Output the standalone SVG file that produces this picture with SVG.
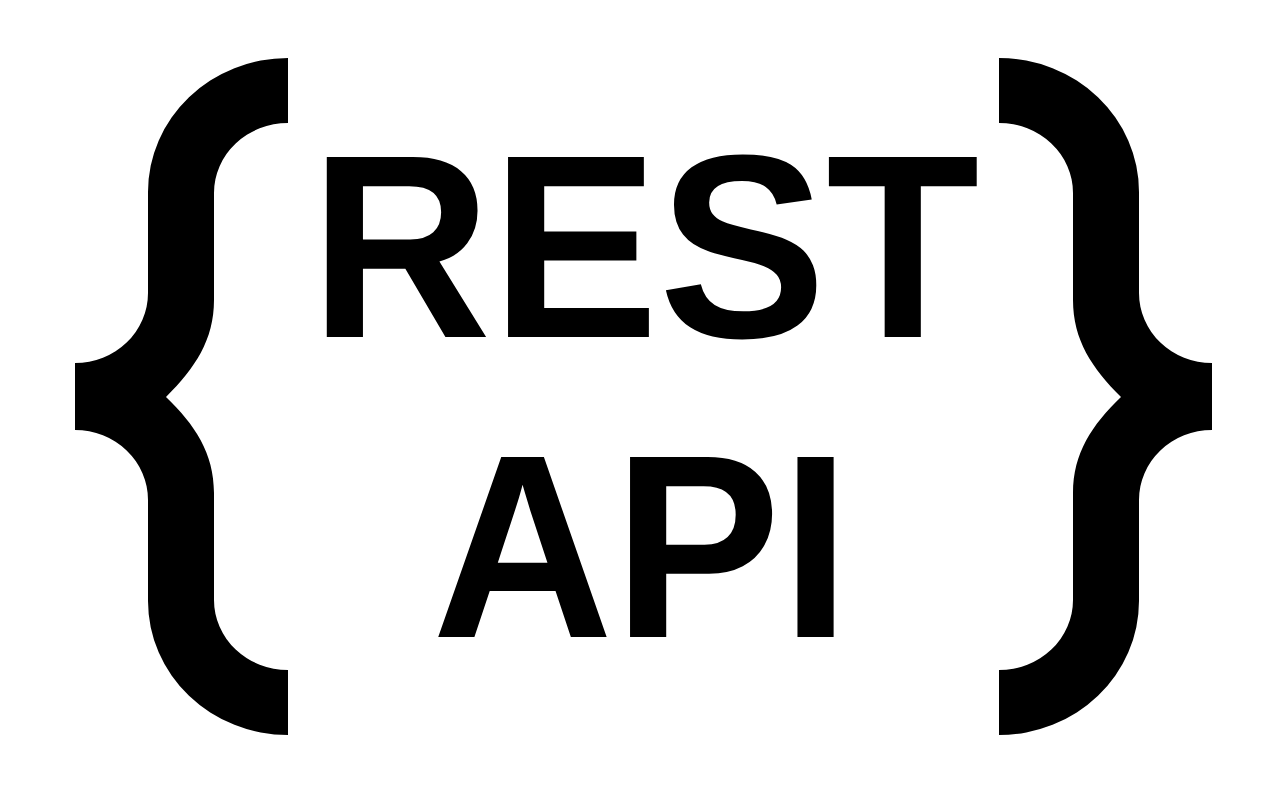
<svg xmlns="http://www.w3.org/2000/svg" xmlns:xlink="http://www.w3.org/1999/xlink" width="1284" height="798" viewBox="0 0 1284 798">
  <style>
    .brace { fill: #000000; }
    .title { font-family: "Liberation Sans", Arial, sans-serif; font-weight: bold; font-size: 251px; fill: #000000; }
  </style>
  <defs>
    <path id="bracePath" class="brace" d="M288,58 A140,134 0 0 0 148,192 L148,293 A73,70 0 0 1 75,363 L75,430 A73,70 0 0 1 148,500 L148,601 A140,134 0 0 0 288,735 L288,670 A74,70 0 0 1 214,600 L214,493 C214,453 195,425 166,397 C195,368 214,340 214,300 L214,193 A74,70 0 0 1 288,123 Z"/>
  </defs>
  <rect x="0" y="0" width="1284" height="798" fill="#ffffff"/>
  <g id="left-brace">
    <use xlink:href="#bracePath" href="#bracePath"/>
  </g>
  <g id="right-brace" transform="translate(1287,0) scale(-1,1)">
    <use xlink:href="#bracePath" href="#bracePath"/>
  </g>
  <g id="text-rest">
    <text class="title" transform="translate(310,337) scale(1,1.042)" x="0" y="0">REST</text>
  </g>
  <g id="text-api">
    <text class="title" transform="translate(432,637) scale(1,1.042)" x="0" y="0">API</text>
  </g>
</svg>
